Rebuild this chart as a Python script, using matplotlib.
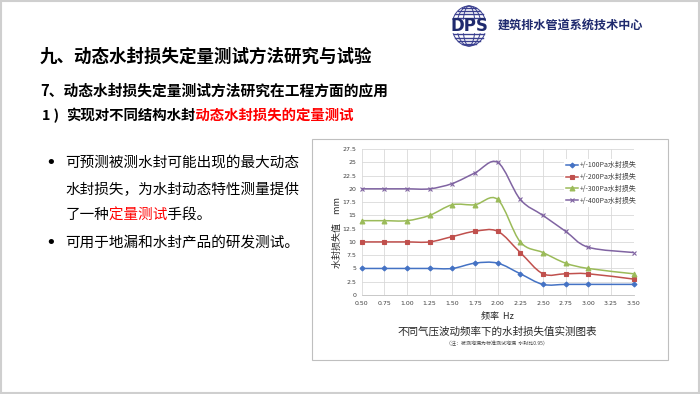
import numpy as np
import matplotlib.pyplot as plt
import matplotlib.patches as mpatches
from matplotlib.path import Path
from matplotlib.lines import Line2D
from matplotlib.transforms import Bbox

plt.rcParams['font.family'] = ['Noto Sans CJK SC', 'DejaVu Sans']

# data
freq = [0.50, 0.75, 1.00, 1.25, 1.50, 1.75, 2.00, 2.25, 2.50, 2.75, 3.00, 3.50]
loss_100 = [5, 5, 5, 5, 5, 6, 6, 4, 2, 2, 2, 2]
loss_200 = [10, 10, 10, 10, 11, 12, 12, 8, 4, 4, 4, 3]
loss_300 = [14, 14, 14, 15, 17, 17, 18, 10, 8, 6, 5, 4]
loss_400 = [20, 20, 20, 20, 21, 23, 25, 18, 15, 12, 9, 8]
series_names = ['+/-100Pa水封损失', '+/-200Pa水封损失', '+/-300Pa水封损失', '+/-400Pa水封损失']
x_ticks = [0.50, 0.75, 1.00, 1.25, 1.50, 1.75, 2.00, 2.25, 2.50, 2.75, 3.00, 3.25, 3.50]
y_ticks = [0, 2.5, 5, 7.5, 10, 12.5, 15, 17.5, 20, 22.5, 25, 27.5]

colors = ['#4472C4', '#C0504D', '#9BBB59', '#8064A2']
markers = ['D', 's', '^', 'x']
msizes = [2.5, 3.5, 3.5, 3.5]

W, H = 700, 394


def fy(y):
    return 1 - y / H


def smooth_path(x, y):
    # Excel-style smoothed line: cubic bezier through the points
    pts = np.column_stack([x, y]).astype(float)
    n = len(pts)
    verts = [pts[0]]
    codes = [Path.MOVETO]
    for i in range(n - 1):
        p0 = pts[max(i - 1, 0)]
        p1 = pts[i]
        p2 = pts[i + 1]
        p3 = pts[min(i + 2, n - 1)]
        verts += [p1 + (p2 - p0) / 6, p2 - (p3 - p1) / 6, p2]
        codes += [Path.CURVE4] * 3
    return Path(verts, codes)


fig = plt.figure(figsize=(7, 3.94), dpi=100)
fig.patch.set_facecolor('white')
fig.canvas.draw()
renderer = fig.canvas.get_renderer()


def char_pitch(size, weight):
    ws = []
    for n in (10, 20):
        t = fig.text(0, 0, '国' * n, fontsize=size, fontweight=weight)
        ws.append(t.get_window_extent(renderer).width)
        t.remove()
    return (ws[1] - ws[0]) / 10


def colored_cjk(x, y, text, segments, size, weight='normal'):
    # one string, drawn once per colour and clipped to that colour's characters
    pitch = char_pitch(size, weight)
    probe = fig.text(x / W, fy(y), text, fontsize=size, fontweight=weight,
                     va='center', ha='left')
    bb = probe.get_window_extent(renderer)
    probe.remove()
    for a, b, col in segments:
        x0 = bb.x0 + a * pitch - 1 if a > 0 else bb.x0 - 5
        x1 = bb.x0 + b * pitch - 1 if b < len(text) else bb.x1 + 5
        t = fig.text(x / W, fy(y), text, fontsize=size, fontweight=weight, color=col,
                     va='center', ha='left')
        t.set_clip_box(Bbox.from_extents(x0, bb.y0 - 6, x1, bb.y1 + 6))


# slide frame
fig.add_artist(mpatches.Rectangle((0.001, 0.002), 0.997, 0.995, transform=fig.transFigure,
                                  fill=False, edgecolor='#cfcfcf', lw=1.5))

# chart box
fig.add_artist(mpatches.Rectangle((312 / W, fy(360)), (668 - 312) / W, (360 - 139) / H,
                                  transform=fig.transFigure, fill=False,
                                  edgecolor='#bfbfbf', lw=0.8))

# ---- headings ----
fig.text(40 / W, fy(57), '九、动态水封损失定量测试方法研究与试验', fontsize=12.6,
         fontweight='bold', va='center', ha='left')
fig.text(40 / W, fy(90), '7、动态水封损失定量测试方法研究在工程方面的应用', fontsize=10.6,
         fontweight='bold', va='center', ha='left')

fig.text(42 / W, fy(116), '1 )', fontsize=10.4, fontweight='bold', va='center', ha='left')
colored_cjk(66, 116, '实现对不同结构水封动态水封损失的定量测试',
            [(0, 9, 'black'), (9, 20, '#ff0000')], 10.4, 'bold')

# bullets
bx, tx = 45 / W, 65 / W
fig.text(bx, fy(163), '•', fontsize=13, va='center', ha='left', family='DejaVu Sans')
fig.text(tx, fy(163), '可预测被测水封可能出现的最大动态', fontsize=10.5, va='center')
fig.text(tx, fy(190), '水封损失，为水封动态特性测量提供', fontsize=10.5, va='center')
colored_cjk(66, 216, '了一种定量测试手段。',
            [(0, 3, 'black'), (3, 7, '#ff0000'), (7, 10, 'black')], 10.5)
fig.text(bx, fy(243), '•', fontsize=13, va='center', ha='left', family='DejaVu Sans')
fig.text(tx, fy(243), '可用于地漏和水封产品的研发测试。', fontsize=10.5, va='center')

# ---- logo ----
lax = fig.add_axes([445 / W, fy(48), 48 / W, 44 / H])
lax.set_xlim(-1.2, 1.2)
lax.set_ylim(-1.1, 1.1)
lax.axis('off')
navy = '#1f2a6e'
for yy in np.linspace(-0.92, 0.92, 12):
    half = np.sqrt(1 - yy ** 2) * 0.85
    lax.plot([-half, half], [yy, yy], color='#3a3f8f', lw=1.0)
tt = np.linspace(0, 2 * np.pi, 100)
for a in [0.3, 0.6, 0.85]:
    lax.plot(a * np.cos(tt), np.sin(tt), color='#3a3f8f', lw=0.7)
lax.add_patch(mpatches.Rectangle((-1.2, -0.3), 2.4, 0.6, color='white', zorder=3))
lax.text(0, 0, 'DPS', fontsize=12, fontweight='bold', color=navy,
         ha='center', va='center', zorder=4, family='DejaVu Sans')
fig.text(498 / W, fy(25), '建筑排水管道系统技术中心', fontsize=8.7, fontweight='bold',
         color=navy, va='center', ha='left')

# ---- chart ----
ax = fig.add_axes([361.7 / W, fy(295), (633.5 - 361.7) / W, (295 - 149) / H])
ax.set_xlim(0.5, 3.5)
ax.set_ylim(0, 27.5)
ax.set_xticks(x_ticks)
ax.set_xticklabels(['%.2f' % v for v in x_ticks])
ax.set_yticks(y_ticks)
ax.set_yticklabels(['%g' % v for v in y_ticks])
ax.grid(True, color='#d9d9d9', lw=0.6)
ax.set_axisbelow(True)
for s in ['top', 'right', 'left']:
    ax.spines[s].set_visible(False)
ax.spines['bottom'].set_color('#bfbfbf')
ax.spines['bottom'].set_linewidth(0.6)
ax.tick_params(length=0, labelsize=4.5, labelcolor='#404040', pad=4)
for lab in ax.get_xticklabels() + ax.get_yticklabels():
    lab.set_family('DejaVu Sans')

handles = []
for vals, col, mk, ms, name in zip([loss_100, loss_200, loss_300, loss_400],
                                   colors, markers, msizes, series_names):
    ax.add_patch(mpatches.PathPatch(smooth_path(freq, vals), fill=False,
                                    edgecolor=col, lw=1.1, zorder=3, clip_on=False))
    ax.plot(freq, vals, ls='none', marker=mk, ms=ms, color=col, mew=0.8,
            zorder=4, clip_on=False)
    handles.append(Line2D([], [], color=col, marker=mk, ms=ms, lw=1.1, mew=0.8, label=name))

leg = ax.legend(handles=handles, loc='upper left', bbox_to_anchor=(0.73, 0.955),
                fontsize=5.0, frameon=True, facecolor='white', edgecolor='none',
                framealpha=1, handlelength=1.8, handletextpad=0.3, labelspacing=0.55,
                borderpad=0.3)
for t in leg.get_texts():
    t.set_color('#404040')

fig.text(337 / W, fy(233), '水封损失值　mm', rotation=90, fontsize=6.5,
         ha='center', va='center', color='#262626')
fig.text(497 / W, fy(317), '频率  Hz', fontsize=6.5, ha='center', va='center', color='#262626')
fig.text(497 / W, fy(332), '不同气压波动频率下的水封损失值实测图表', fontsize=7.6,
         ha='center', va='center', color='#262626')
fig.text(497 / W, fy(343), '（注：被测地漏为标准测试地漏  水封比0.95）', fontsize=3.6,
         ha='center', va='center', color='#404040')

fig.savefig('out.png', dpi=100, facecolor='white')
